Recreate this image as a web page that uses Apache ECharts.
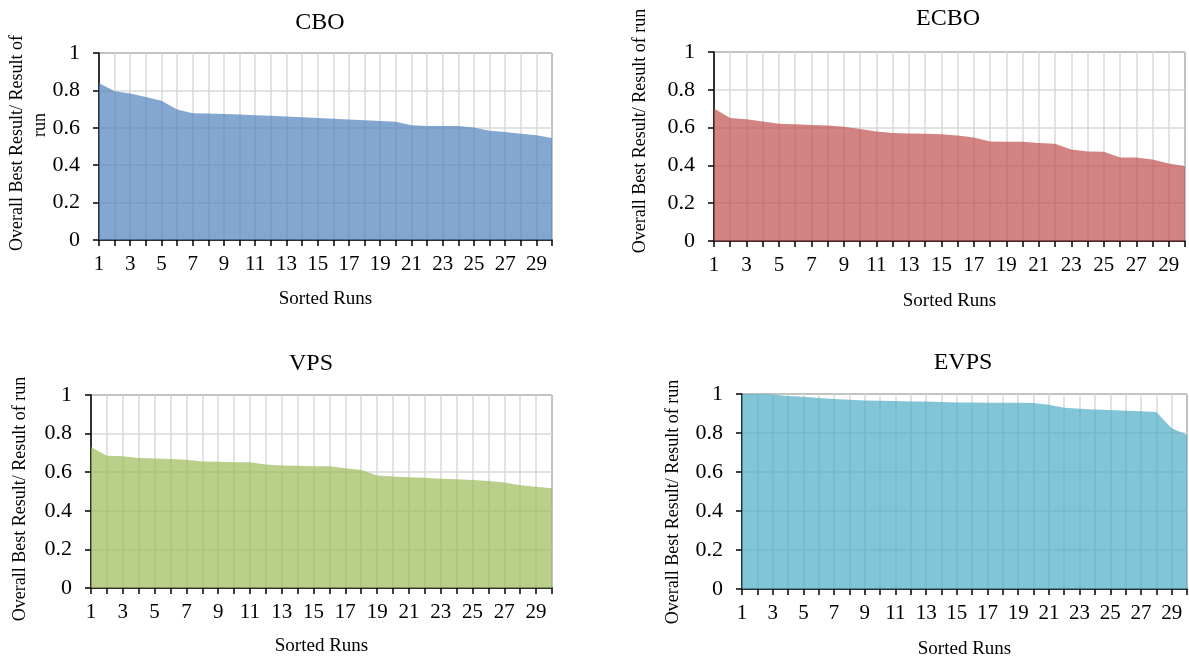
<!DOCTYPE html>
<html>
<head>
<meta charset="utf-8">
<script src="https://cdn.jsdelivr.net/npm/echarts@6/dist/echarts.min.js"></script>
<style>
html,body{margin:0;padding:0;background:#fff;}
#main{width:1189px;height:661px;}
</style>
</head>
<body>
<div id="main"></div>
<script>
// ---- data ----
const runs = Array.from({length: 30}, (_, i) => String(i + 1));
const yTicks = [0, 0.2, 0.4, 0.6, 0.8, 1];

const cboValues = [0.840, 0.795, 0.783, 0.765, 0.744, 0.698, 0.678, 0.676, 0.674, 0.671,
                   0.667, 0.664, 0.660, 0.657, 0.653, 0.649, 0.644, 0.641, 0.637, 0.633,
                   0.614, 0.610, 0.610, 0.609, 0.601, 0.584, 0.577, 0.568, 0.560, 0.545];
const ecboValues = [0.701, 0.651, 0.644, 0.632, 0.620, 0.618, 0.614, 0.611, 0.604, 0.592,
                    0.579, 0.572, 0.569, 0.567, 0.565, 0.558, 0.548, 0.526, 0.525, 0.525,
                    0.519, 0.514, 0.484, 0.474, 0.472, 0.442, 0.442, 0.431, 0.410, 0.396];
const vpsValues = [0.730, 0.685, 0.683, 0.673, 0.671, 0.668, 0.664, 0.656, 0.654, 0.652,
                   0.651, 0.640, 0.635, 0.633, 0.631, 0.631, 0.621, 0.611, 0.583, 0.578,
                   0.574, 0.571, 0.566, 0.564, 0.559, 0.555, 0.547, 0.533, 0.524, 0.517];
const evpsValues = [1.000, 1.000, 0.997, 0.990, 0.986, 0.979, 0.974, 0.971, 0.967, 0.966,
                    0.964, 0.962, 0.961, 0.959, 0.957, 0.957, 0.955, 0.955, 0.955, 0.954,
                    0.945, 0.930, 0.925, 0.921, 0.918, 0.914, 0.911, 0.908, 0.824, 0.791];

const titles = ['CBO', 'ECBO', 'VPS', 'EVPS'];
const xAxisTitle = 'Sorted Runs';
const yAxisTitle = 'Overall Best Result/ Result of run';
const yAxisTitleCBO = ['Overall Best Result/ Result of', 'run'];

// ---- layout / style ----
const FONT = '"Liberation Serif", "Times New Roman", serif';
const panels = [
  {values: cboValues,  color: 'rgba(79,129,189,0.7)', grid: {left: 99,  top: 53,  width: 453, height: 187}, title: [315, 6],   nameGap: 50},
  {values: ecboValues, color: 'rgba(192,80,77,0.7)',  grid: {left: 714, top: 52,  width: 471, height: 189}, title: [943, 2],   nameGap: 51},
  {values: vpsValues,  color: 'rgba(155,187,89,0.7)', grid: {left: 91,  top: 395, width: 461, height: 193}, title: [306, 347], nameGap: 49},
  {values: evpsValues, color: 'rgba(75,172,198,0.7)', grid: {left: 742, top: 394, width: 445, height: 195}, title: [958, 346], nameGap: 51}
];

const chart = echarts.init(document.getElementById('main'), null, {renderer: 'canvas'});

const option = {
  animation: false,
  backgroundColor: '#fff',
  title: panels.map((p, i) => ({
    text: titles[i],
    left: p.title[0], top: p.title[1],
    textAlign: 'center',
    textStyle: {fontFamily: FONT, fontSize: 24, fontWeight: 'normal', color: '#000'}
  })),
  grid: panels.map(p => Object.assign({show: true, borderColor: '#000', borderWidth: 1, backgroundColor: 'transparent'}, p.grid)),
  xAxis: panels.map((p, i) => ({
    type: 'category',
    gridIndex: i,
    data: runs,
    boundaryGap: false,
    name: xAxisTitle,
    nameLocation: 'middle',
    nameGap: p.nameGap,
    nameTextStyle: {fontFamily: FONT, fontSize: 19, color: '#000'},
    axisLine: {show: true, lineStyle: {color: '#000', width: 1.5}},
    axisTick: {show: true, interval: 0, length: 6, lineStyle: {color: '#000', width: 1.5}},
    axisLabel: {interval: 1, fontFamily: FONT, fontSize: 21, color: '#000', margin: 14},
    splitLine: {show: true, interval: 0, lineStyle: {color: '#d9d9d9', width: 1.5}}
  })),
  yAxis: panels.map((p, i) => ({
    type: 'value',
    gridIndex: i,
    min: 0, max: 1, interval: 0.2,
    axisLine: {show: true, lineStyle: {color: '#000', width: 1.5}},
    axisTick: {show: true, length: 6, lineStyle: {color: '#000', width: 1.5}},
    axisLabel: {fontFamily: FONT, fontSize: 22, color: '#000', margin: 19,
                formatter: v => yTicks.includes(Math.round(v * 10) / 10) ? String(Math.round(v * 10) / 10) : ''},
    splitLine: {show: true, lineStyle: {color: '#d9d9d9', width: 1.5}}
  })),
  graphic: [
    {type: 'text', x: 17, y: 143, rotation: Math.PI / 2, style: {text: yAxisTitleCBO[0], font: '18px ' + FONT, fill: '#000', align: 'center', verticalAlign: 'middle'}},
    {type: 'text', x: 40, y: 125, rotation: Math.PI / 2, style: {text: yAxisTitleCBO[1], font: '18px ' + FONT, fill: '#000', align: 'center', verticalAlign: 'middle'}},
    {type: 'text', x: 640, y: 131, rotation: Math.PI / 2, style: {text: yAxisTitle, font: '18px ' + FONT, fill: '#000', align: 'center', verticalAlign: 'middle'}},
    {type: 'text', x: 20, y: 499, rotation: Math.PI / 2, style: {text: yAxisTitle, font: '18px ' + FONT, fill: '#000', align: 'center', verticalAlign: 'middle'}},
    {type: 'text', x: 673, y: 502, rotation: Math.PI / 2, style: {text: yAxisTitle, font: '18px ' + FONT, fill: '#000', align: 'center', verticalAlign: 'middle'}}
  ],
  series: panels.map((p, i) => ({
    type: 'line',
    name: titles[i],
    xAxisIndex: i,
    yAxisIndex: i,
    data: p.values,
    symbol: 'none',
    lineStyle: {width: 0},
    areaStyle: {color: p.color, opacity: 1},
    z: 2
  }))
};
chart.setOption(option);
</script>
</body>
</html>
